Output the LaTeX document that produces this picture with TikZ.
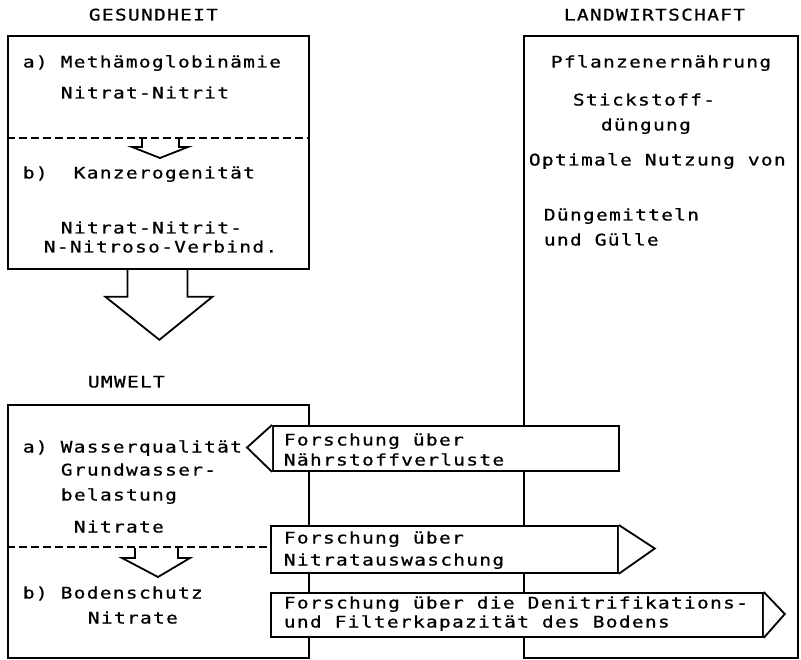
\documentclass[tikz,border=0pt]{standalone}
\usepackage{fontspec}
\newfontfamily\dotfont{DejaVu Sans Mono}[LetterSpace=8,FakeStretch=1.22,FakeBold=0.8]
\usetikzlibrary{positioning}

\begin{document}
\begin{tikzpicture}[x=1pt,y=-1pt,line width=1.8pt,
        font={\fontsize{16}{20}\dotfont},
        txt/.style={anchor=base west,inner sep=0pt},
        panel/.style={draw,anchor=north west,inner sep=0pt},
        forsch/.style={draw,fill=white,anchor=north west,inner sep=0pt},
        sep/.style={line width=1.5pt,dash pattern=on 8pt off 4pt}]
      \useasboundingbox (0,0) rectangle (801,660);
      % the three big frames
      \node[panel,minimum width=301pt,minimum height=233pt] (ges) at (7,35) {};
      \node[panel,minimum width=301pt,minimum height=253pt] (umw) at (7,404) {};
      \node[panel,minimum width=274pt,minimum height=622pt] (land) at (523,35) {};
      % headings
      \node[txt] (hges) at (88,20.5) {GESUNDHEIT};
      \node[txt] (hland) at (563,20.5) {LANDWIRTSCHAFT};
      \node[txt] (humw) at (87,387.5) {UMWELT};
      % Gesundheit
      \node[txt] (g1) at (22,67.5) {a) Methämoglobinämie};
      \node[txt] (g2) at (60,98.5) {Nitrat-Nitrit};
      \draw[sep] (7,138) -- (308,138);
      \draw (142,138) -- ++(0,9) -- ++(-10,0) -- (160,158) -- (188,147) -- ++(-9,0) -- ++(0,-9);
      \node[txt] (g3) at (22,178.5) {b)~~Kanzerogenität};
      \node[txt] (g4) at (60,233.5) {Nitrat-Nitrit-};
      \node[txt] (g5) at (43,252.5) {N-Nitroso-Verbind.};
      % big arrow down
      \draw ([xshift=-31pt]ges.south) -- ++(0,27) -- ++(-22,0) -- ++(54,43)
        -- ++(53,-43) -- ++(-25,0) -- ++(0,-27);
      % Umwelt
      \node[txt] (u1) at (22,452.5) {a) Wasserqualität};
      \node[txt] (u2) at (60,475.5) {Grundwasser-};
      \node[txt] (u3) at (60,500.5) {belastung};
      \node[txt] (u4) at (73,532.5) {Nitrate};
      \node[txt] (u5) at (22,598.5) {b) Bodenschutz};
      \node[txt] (u6) at (87,623.5) {Nitrate};
      \draw (135,548) -- ++(0,10) -- ++(-13,0) -- (158,577) -- (190,558) -- ++(-12,0) -- ++(0,-10);
      % Landwirtschaft
      \node[txt] (l1) at (550,67.5) {Pflanzenernährung};
      \node[txt] (l2) at (572,105.5) {Stickstoff-};
      \node[txt] (l3) at (600,130.5) {düngung};
      \node[txt] (l4) at (528,165.5) {Optimale Nutzung von};
      \node[txt] (l5) at (543,220.5) {Düngemitteln};
      \node[txt] (l6) at (543,245.5) {und Gülle};
      % research arrows
      \node[forsch,minimum width=346pt,minimum height=45pt] (f1) at (272,425) {};
      \draw[fill=white] (f1.north west) -- ++(-25,22.5) -- (f1.south west);
      \draw[sep] (7,547) -- (270,547);
      \node[forsch,minimum width=347pt,minimum height=47pt] (f2) at (270,525) {};
      \draw[fill=white] (f2.north east) -- ++(36,23.5) -- (f2.south east);
      \node[forsch,minimum width=492pt,minimum height=44pt] (f3) at (270,592) {};
      \draw[fill=white] (f3.north east) -- ++(21,22) -- (f3.south east);
      \node[txt] (f1a) at (283,445.5) {Forschung über};
      \node[txt] (f1b) at (283,465.5) {Nährstoffverluste};
      \node[txt] (f2a) at (283,543.5) {Forschung über};
      \node[txt] (f2b) at (283,565.5) {Nitratauswaschung};
      \node[txt] (f3a) at (283,608.5) {Forschung über die Denitrifikations-};
      \node[txt] (f3b) at (283,627.5) {und Filterkapazität des Bodens};
    \end{tikzpicture}
\end{document}
